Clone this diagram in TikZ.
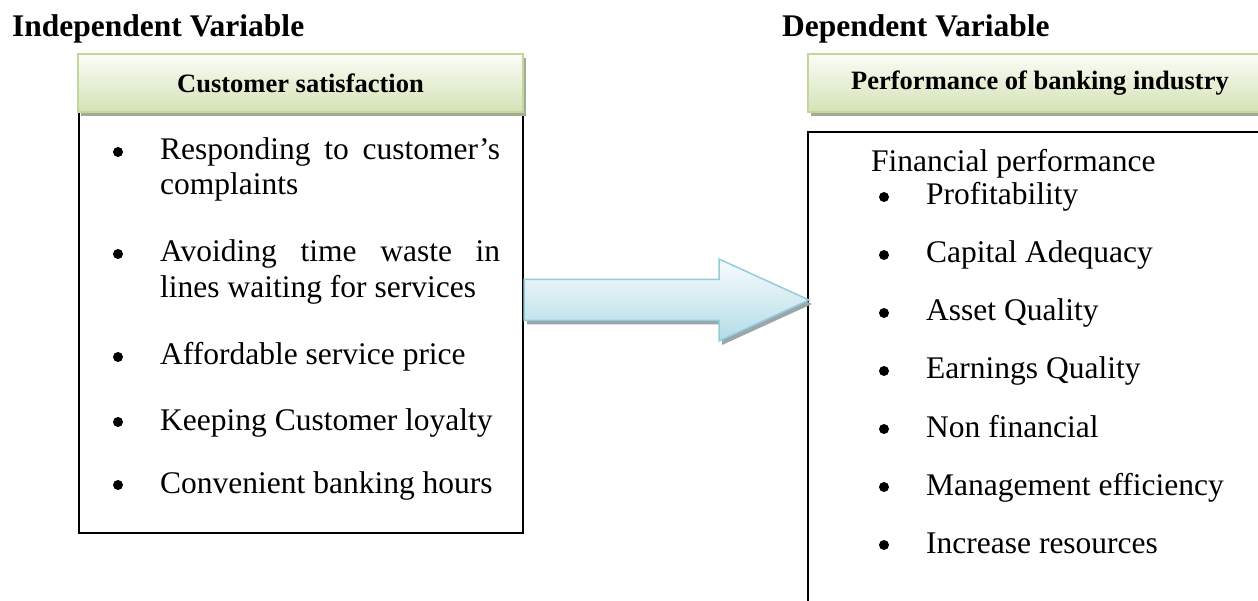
\documentclass[tikz,border=0pt]{standalone}
\usepackage{fontspec}
\setmainfont{Liberation Serif}
\usetikzlibrary{shadows,calc}

\definecolor{hdrborder}{HTML}{C3D69B}
\definecolor{hdrtop}{HTML}{FBFDF7}
\definecolor{hdrbottom}{HTML}{D3E2B6}
\definecolor{hdrshadow}{HTML}{A4AB93}
\definecolor{arrborder}{HTML}{92CDDC}
\definecolor{arrtop}{HTML}{F7FBFD}
\definecolor{arrbottom}{HTML}{B4DCE7}
\definecolor{arrshadow}{HTML}{9AA6A9}

\newcommand\bodysize{\fontsize{31.5}{36}\selectfont}
\newcommand\hdrsize{\fontsize{26.5}{30}\selectfont}

\begin{document}
\begin{tikzpicture}[x=1pt,y=-1pt,
  panel/.style={draw=black, line width=2pt, inner sep=0pt, fill=white},
  header/.style={draw=hdrborder, line width=1.5pt, top color=hdrtop, bottom color=hdrbottom,
    inner sep=0pt, font=\hdrsize\bfseries,
    drop shadow={shadow xshift=3pt, shadow yshift=-4pt, fill=hdrshadow, opacity=1}},
  title/.style={anchor=base west, inner sep=0pt, font=\bodysize\bfseries},
  item/.style={anchor=base west, inner sep=0pt, font=\bodysize},
  dot/.style={circle, fill=black, inner sep=0pt, minimum size=10pt},
  bigarrow/.style={draw=arrborder, line width=1.5pt, top color=arrtop, bottom color=arrbottom,
    drop shadow={shadow xshift=3pt, shadow yshift=-4pt, fill=arrshadow, opacity=1}}
]
\useasboundingbox (0,0) rectangle (1258,601);
\clip (0,0) rectangle (1258,601);

% titles
\node[title] (tIndep) at (12,37) {Independent Variable};
\node[title] (tDep) at (782,37) {Dependent Variable};

% content panels
\node[panel, minimum width=444pt, minimum height=433pt] (boxL) at (301,316.5) {};
\node[panel, minimum width=482pt, minimum height=520pt] (boxR) at (1049,392) {};

% header bars
\node[header, minimum width=445pt, minimum height=58pt] (hdrL) at (300.5,83) {Customer satisfaction};
\node[header, minimum width=464pt, minimum height=58pt] (hdrR) at (1040,83) {Performance of banking industry};

% block arrow from the left panel to the right panel
\coordinate (tail) at (boxL.east |- 0,300);
\coordinate (tip) at ($(boxR.west |- 0,300)+(2,0)$);
\path[bigarrow] ($(tail)+(0,-20.5)$) -- ($(tip)+(-90,-20.5)$) -- ($(tip)+(-90,-41)$)
  -- (tip) -- ($(tip)+(-90,41)$) -- ($(tip)+(-90,20.5)$) -- ($(tail)+(0,20.5)$) -- cycle;

% left list (bullet centres sit 8pt above the baseline)
\node[dot] (bL1) at (118,152) {};
\node[item] (iL1a) at (160,160) {\makebox[340pt][s]{Responding to customer’s}};
\node[item] (iL1b) at (160,195) {complaints};
\node[dot] (bL2) at (118,254) {};
\node[item] (iL2a) at (160,262) {\makebox[340pt][s]{Avoiding time waste in}};
\node[item] (iL2b) at (160,298) {lines waiting for services};
\node[dot] (bL3) at (118,357) {};
\node[item] (iL3) at (160,365) {Affordable service price};
\node[dot] (bL4) at (118,422) {};
\node[item] (iL4) at (160,430) {Keeping Customer loyalty};
\node[dot] (bL5) at (118,485) {};
\node[item] (iL5) at (160,493) {Convenient banking hours};

% right list
\node[item] (iR0) at (871,172) {Financial performance};
\foreach \txt [count=\k] in {Profitability, Capital Adequacy, Asset Quality, Earnings Quality,
    Non financial, Management efficiency, Increase resources} {
  \node[dot] (bR\k) at (884,139+58*\k) {};
  \node[item] (iR\k) at (926,147+58*\k) {\txt};
}
\end{tikzpicture}
\end{document}
